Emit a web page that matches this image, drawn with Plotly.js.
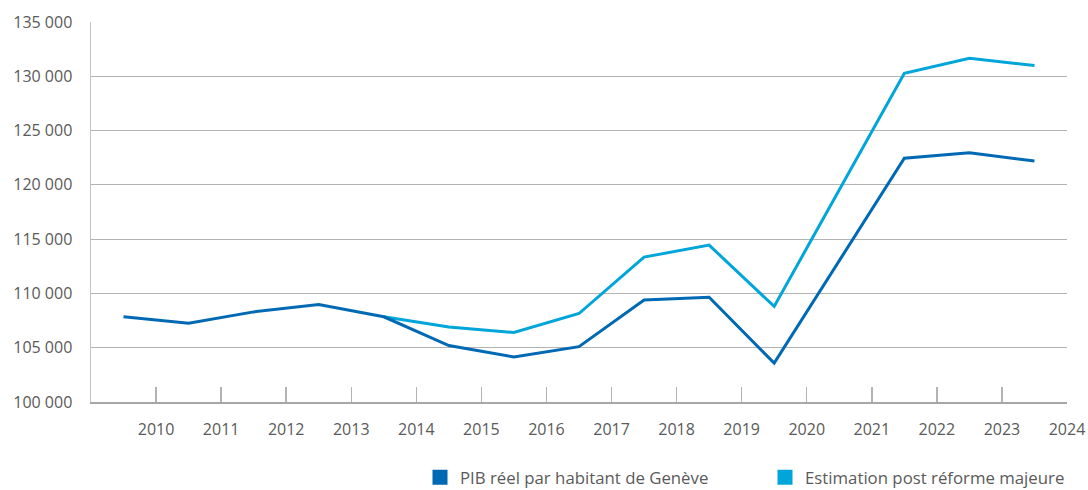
<!DOCTYPE html>
<html>
<head>
<meta charset="utf-8">
<script src="https://cdn.plot.ly/plotly-3.0.1.min.js"></script>
<style>
  html, body { margin: 0; padding: 0; background: #ffffff; }
  #chart { width: 1088px; height: 490px; }
</style>
</head>
<body>
<div id="chart"></div>
<script>
// Tick labels shown on the x axis (at category boundaries)
const tickLabels = ['2010','2011','2012','2013','2014','2015','2016','2017','2018','2019','2020','2021','2022','2023','2024'];

// Series values (one per period, plotted mid-period)
const pibReel = [107850, 107250, 108300, 108980, 107850, 105200, 104150, 105100, 109400, 109650, 103580, 113000, 122450, 122950, 122200];
const estimation = [null, null, null, null, 107850, 106900, 106400, 108150, 113350, 114450, 108800, 119550, 130280, 131650, 131000];

const seriesNames = ['PIB réel par habitant de Genève', 'Estimation post réforme majeure'];
const colors = ['#0069B4', '#00A5D9'];

const xPos = pibReel.map((_, i) => i + 0.5);
const tickVals = tickLabels.map((_, i) => i + 1);

const font = { family: '"Open Sans", "Noto Sans", sans-serif', size: 16, color: '#5a5a5a' };
const legendFont = { family: '"Open Sans", "Noto Sans", sans-serif', size: 16.8, color: '#5a5a5a' };

const traces = [
  { type: 'scatter', mode: 'lines', x: xPos, y: estimation, name: seriesNames[1],
    line: { color: colors[1], width: 3 }, showlegend: false, connectgaps: false, hoverinfo: 'skip' },
  { type: 'scatter', mode: 'lines', x: xPos, y: pibReel, name: seriesNames[0],
    line: { color: colors[0], width: 3 }, showlegend: false, hoverinfo: 'skip' },
  // legend entries (square swatches)
  { type: 'scatter', mode: 'markers', x: [null], y: [null], name: seriesNames[0],
    marker: { symbol: 'square', size: 15, color: colors[0] }, showlegend: true, legend: 'legend' },
  { type: 'scatter', mode: 'markers', x: [null], y: [null], name: seriesNames[1],
    marker: { symbol: 'square', size: 15, color: colors[1] }, showlegend: true, legend: 'legend2' }
];

const legendCommon = {
  orientation: 'h', xanchor: 'left', yanchor: 'middle', y: -0.198,
  font: legendFont, bgcolor: 'rgba(0,0,0,0)', borderwidth: 0
};

const layout = {
  width: 1088, height: 490,
  margin: { l: 91, r: 21, t: 22, b: 88, autoexpand: false },
  paper_bgcolor: '#ffffff', plot_bgcolor: '#ffffff',
  font: font,
  separators: '. ',
  showlegend: true,
  legend: Object.assign({}, legendCommon, { x: (420 - 91) / 976 }),
  legend2: Object.assign({}, legendCommon, { x: (765 - 91) / 976 }),
  xaxis: {
    type: 'linear', range: [0, 15], fixedrange: true,
    tickmode: 'array', tickvals: [0].concat(tickVals), ticktext: [''].concat(tickLabels),
    ticks: 'inside', ticklen: 15, tickwidth: 1.5, tickcolor: '#b3b3b3',
    showgrid: false, zeroline: false,
    showline: true, linecolor: '#a6a6a6', linewidth: 1.5,
    ticklabelstandoff: 12,
    tickfont: font
  },
  yaxis: {
    range: [100000, 135000], fixedrange: true,
    tickmode: 'linear', tick0: 100000, dtick: 5000, tickformat: ',d',
    showgrid: true, gridcolor: '#b3b3b3', gridwidth: 1,
    zeroline: false,
    showline: true, linecolor: '#c4c4c4', linewidth: 1.5,
    ticks: '', ticklabelstandoff: 14,
    tickfont: font
  }
};

Plotly.newPlot('chart', traces, layout, { displayModeBar: false, staticPlot: true });
</script>
</body>
</html>
